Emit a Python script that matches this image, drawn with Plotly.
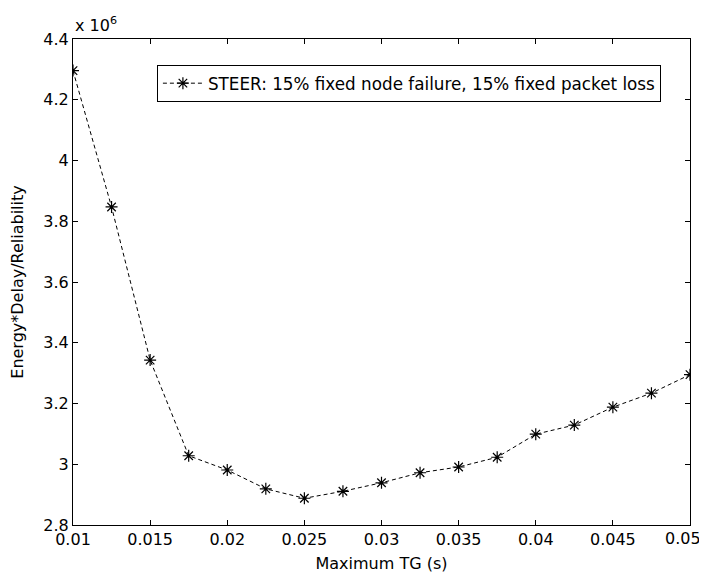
import plotly.graph_objects as go

tg = [0.01, 0.0125, 0.015, 0.0175, 0.02, 0.0225, 0.025, 0.0275, 0.03,
      0.0325, 0.035, 0.0375, 0.04, 0.0425, 0.045, 0.0475, 0.05]
edr = [4.296, 3.847, 3.343, 3.028, 2.981, 2.919, 2.888, 2.911, 2.939,
       2.972, 2.991, 3.023, 3.099, 3.129, 3.188, 3.234, 3.295]
edr_vals = [v * 1e6 for v in edr]
series_name = "STEER: 15% fixed node failure, 15% fixed packet loss"
x_ticks = [0.01, 0.015, 0.02, 0.025, 0.03, 0.035, 0.04, 0.045, 0.05]
x_tick_labels = ["0.01", "0.015", "0.02", "0.025", "0.03", "0.035", "0.04", "0.045", "0.05"]
y_ticks = [2.8e6, 3.0e6, 3.2e6, 3.4e6, 3.6e6, 3.8e6, 4.0e6, 4.2e6, 4.4e6]
y_tick_labels = ["2.8", "3", "3.2", "3.4", "3.6", "3.8", "4", "4.2", "4.4"]

font = dict(family="DejaVu Sans, sans-serif", size=16, color="black")
legend_font = dict(family="DejaVu Sans, sans-serif", size=16.8, color="black")

fig = go.Figure()
fig.add_trace(go.Scatter(
    x=tg, y=edr_vals, mode="lines+markers", name=series_name,
    line=dict(color="black", width=1, dash="4px,3px"),
    marker=dict(symbol="asterisk-open", size=10, color="black",
                line=dict(color="black", width=1.2)),
))

# last x tick label is drawn as an annotation so that it stays inside the page
shown_x_labels = x_tick_labels[:-1] + [""]

axis_common = dict(
    showline=True, linecolor="black", linewidth=1, mirror="ticks",
    ticks="inside", ticklen=5, tickcolor="black", showgrid=False,
    zeroline=False, tickfont=font, automargin=False,
)
# page body has an 8px margin, so figure is 699x569 placed at (8, 8)
fig.update_layout(
    width=699, height=569,
    margin=dict(l=65, r=17, t=31, b=52),
    paper_bgcolor="white", plot_bgcolor="white",
    font=font,
    showlegend=True,
    legend=dict(x=0.136, y=0.947, xanchor="left", yanchor="top",
                bordercolor="black", borderwidth=1, bgcolor="white",
                font=legend_font, itemwidth=40),
    xaxis=dict(range=[0.01, 0.05], tickvals=x_ticks, ticktext=shown_x_labels,
               title=dict(text="Maximum TG (s)", font=font, standoff=9), **axis_common),
    yaxis=dict(range=[2.8e6, 4.4e6], tickvals=y_ticks, ticktext=y_tick_labels,
               title=dict(text="Energy*Delay/Reliability", font=font, standoff=20), **axis_common),
    annotations=[
        dict(text="x 10<sup>6</sup>", xref="paper", yref="paper",
             x=0.0, y=1.0, xanchor="left", yanchor="bottom",
             showarrow=False, font=font, yshift=2),
        dict(text=x_tick_labels[-1], xref="paper", yref="paper",
             x=1.0, y=0.0, xanchor="right", yanchor="top",
             showarrow=False, font=font, xshift=13, yshift=-2),
    ],
)
fig.write_html("out.html")
